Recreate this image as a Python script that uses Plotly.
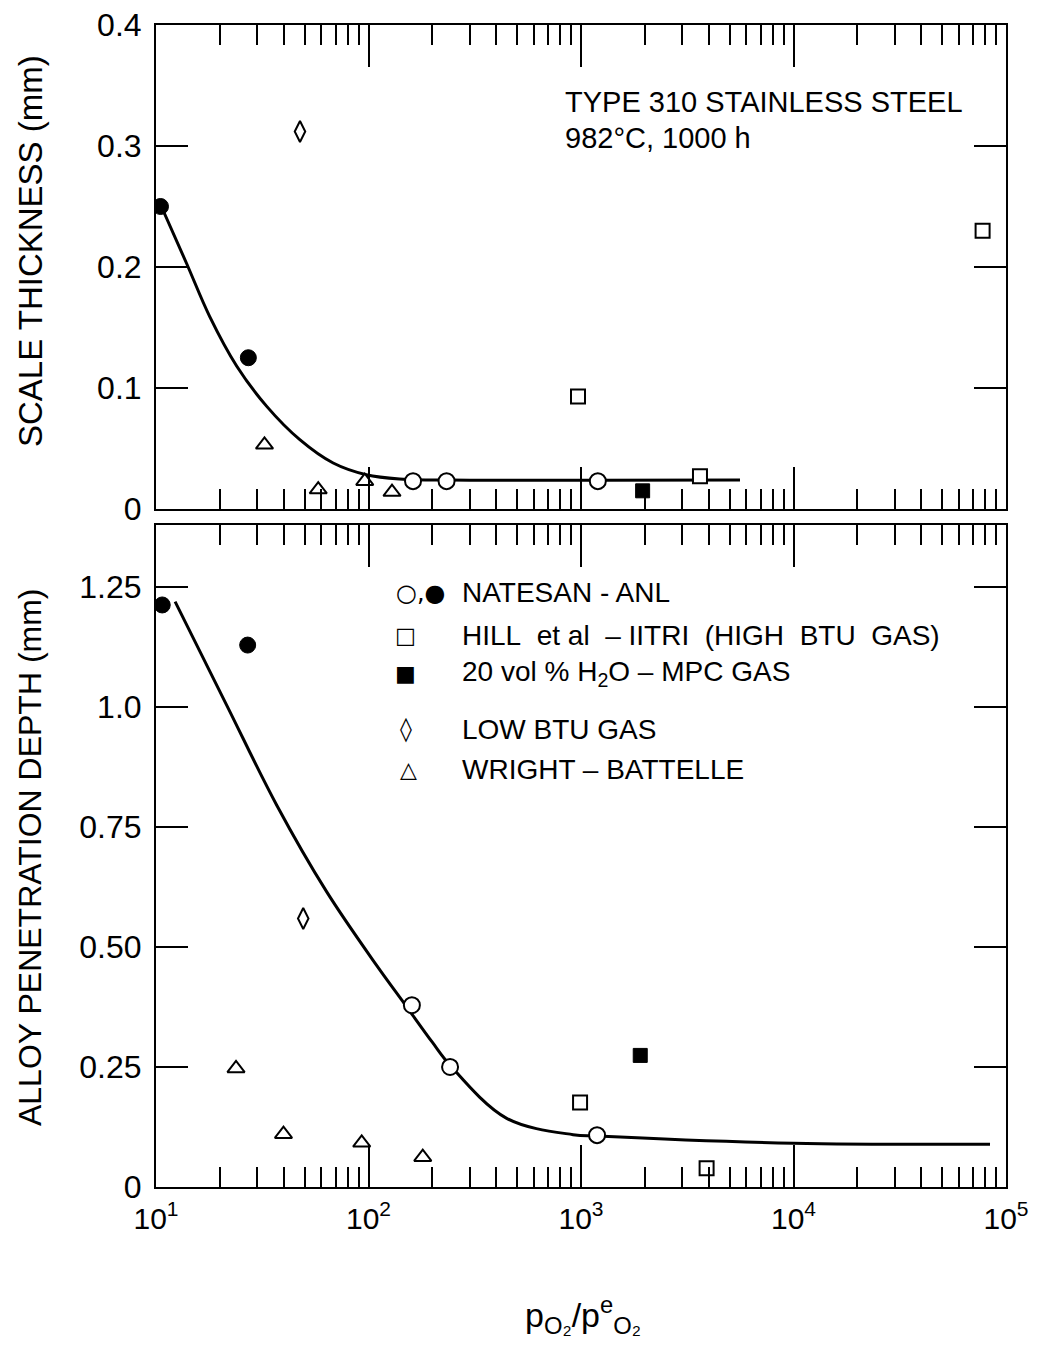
import plotly.graph_objects as go

# ---------------- data ----------------
# Top panel: scale thickness (mm)
top_natesan_open_x = [162, 233, 1200]
top_natesan_open_y = [0.023, 0.023, 0.023]
top_natesan_filled_x = [10.5, 27.2]
top_natesan_filled_y = [0.250, 0.125]
top_hill_x = [968, 3630, 77600]
top_hill_y = [0.093, 0.027, 0.230]
top_mpc_x = [1950]
top_mpc_y = [0.015]
top_lowbtu_x = [47.6]
top_lowbtu_y = [0.312]
top_wright_x = [32.4, 58, 96, 129]
top_wright_y = [0.053, 0.016, 0.023, 0.014]
top_curve_x = [10.6, 13.9, 17.9, 24, 33.2, 47.5, 68.2, 97.7, 140, 300, 1200, 5600]
top_curve_y = [0.250, 0.2033, 0.159, 0.118, 0.0848, 0.0573, 0.038, 0.0283, 0.0248, 0.0238, 0.0238, 0.0240]

# Bottom panel: alloy penetration depth (mm)
bot_natesan_open_x = [160, 242, 1190]
bot_natesan_open_y = [0.3785, 0.250, 0.108]
bot_natesan_filled_x = [10.7, 27]
bot_natesan_filled_y = [1.212, 1.1285]
bot_hill_x = [990, 3900]
bot_hill_y = [0.176, 0.039]
bot_mpc_x = [1900]
bot_mpc_y = [0.274]
bot_lowbtu_x = [49.3]
bot_lowbtu_y = [0.559]
bot_wright_x = [23.8, 39.8, 92.9, 180]
bot_wright_y = [0.247, 0.110, 0.092, 0.062]
bot_curve_x = [12.3, 21.5, 37, 63.5, 109, 148, 200, 242, 447, 918, 1190, 10000, 84100]
bot_curve_y = [1.219, 1.0035, 0.795, 0.615, 0.462, 0.381, 0.301, 0.2535, 0.143, 0.109, 0.106, 0.091, 0.089]

x_tick_vals = [10, 100, 1000, 10000, 100000]
x_tick_text = ["10<sup>1</sup>", "10<sup>2</sup>", "10<sup>3</sup>", "10<sup>4</sup>", "10<sup>5</sup>"]
top_y_vals = [0, 0.1, 0.2, 0.3, 0.4]
top_y_text = ["0", "0.1", "0.2", "0.3", "0.4"]
bot_y_vals = [0, 0.25, 0.5, 0.75, 1.0, 1.25]
bot_y_text = ["0", "0.25", "0.50", "0.75", "1.0", "1.25"]

NB = "\u00a0"
legend_symbols = ["○,●", "□", "■", "◊", "△"]
legend_sym_sizes = [24, 22, 22, 24, 22]
legend_labels = ["NATESAN - ANL",
                 f"HILL{NB}{NB}et{NB}al{NB}{NB}–{NB}IITRI{NB}{NB}(HIGH{NB}{NB}BTU{NB}{NB}GAS)",
                 "20 vol % H<sub>2</sub>O – MPC GAS", "LOW BTU GAS", "WRIGHT – BATTELLE"]

FONT = "Liberation Sans, Arial, sans-serif"
SYMFONT = "DejaVu Sans, sans-serif"
BLACK = "black"

fig = go.Figure()

def add_panel(xa, ya, curve_x, curve_y, no_x, no_y, nf_x, nf_y, h_x, h_y,
              m_x, m_y, l_x, l_y, w_x, w_y):
    common = dict(xaxis=xa, yaxis=ya, showlegend=False, hoverinfo="skip")
    fig.add_trace(go.Scatter(x=curve_x, y=curve_y, mode="lines",
                             line=dict(color=BLACK, width=3, shape="spline", smoothing=1.0),
                             **common))
    fig.add_trace(go.Scatter(x=no_x, y=no_y, mode="markers",
                             marker=dict(symbol="circle", size=16, color="white",
                                         line=dict(color=BLACK, width=2)), **common))
    fig.add_trace(go.Scatter(x=nf_x, y=nf_y, mode="markers",
                             marker=dict(symbol="circle", size=16, color=BLACK,
                                         line=dict(color=BLACK, width=1)), **common))
    fig.add_trace(go.Scatter(x=h_x, y=h_y, mode="markers",
                             marker=dict(symbol="square", size=14, color="white",
                                         line=dict(color=BLACK, width=2)), **common))
    fig.add_trace(go.Scatter(x=m_x, y=m_y, mode="markers",
                             marker=dict(symbol="square", size=14, color=BLACK,
                                         line=dict(color=BLACK, width=1)), **common))
    fig.add_trace(go.Scatter(x=l_x, y=l_y, mode="markers",
                             marker=dict(symbol="diamond-tall", size=15, color="white",
                                         line=dict(color=BLACK, width=2)), **common))
    fig.add_trace(go.Scatter(x=w_x, y=w_y, mode="markers",
                             marker=dict(symbol="triangle-up", size=15, color="white",
                                         line=dict(color=BLACK, width=2)), **common))

add_panel("x", "y", top_curve_x, top_curve_y, top_natesan_open_x, top_natesan_open_y,
          top_natesan_filled_x, top_natesan_filled_y, top_hill_x, top_hill_y,
          top_mpc_x, top_mpc_y, top_lowbtu_x, top_lowbtu_y, top_wright_x, top_wright_y)
add_panel("x2", "y2", bot_curve_x, bot_curve_y, bot_natesan_open_x, bot_natesan_open_y,
          bot_natesan_filled_x, bot_natesan_filled_y, bot_hill_x, bot_hill_y,
          bot_mpc_x, bot_mpc_y, bot_lowbtu_x, bot_lowbtu_y, bot_wright_x, bot_wright_y)

minor_vals = [m * 10 ** k for k in range(1, 5) for m in range(2, 10)]

xaxis_common = dict(type="log", range=[1, 5], showgrid=False, zeroline=False,
                    showline=True, linecolor=BLACK, linewidth=2, mirror="ticks",
                    ticks="inside", ticklen=42, tickwidth=2, tickcolor=BLACK,
                    tickmode="array", tickvals=x_tick_vals, ticktext=x_tick_text,
                    minor=dict(tickmode="array", tickvals=minor_vals, ticks="inside",
                               ticklen=20, tickwidth=2, tickcolor=BLACK, showgrid=False),
                    tickfont=dict(family=FONT, size=30, color=BLACK),
                    ticklabeloverflow="allow", automargin=False)
yaxis_common = dict(showgrid=False, zeroline=False, showline=True, linecolor=BLACK,
                    linewidth=2, mirror="ticks", ticks="inside", ticklen=32,
                    tickwidth=2, tickcolor=BLACK, tickmode="array",
                    tickfont=dict(family=FONT, size=32, color=BLACK),
                    ticklabelstandoff=6, ticklabeloverflow="allow", automargin=False)

# the page adds an 8 px body margin, so the figure is 8 px smaller on each side
fig.update_layout(
    width=1029, height=1345,
    margin=dict(l=148, r=31, t=17, b=166, autoexpand=False),
    paper_bgcolor="white", plot_bgcolor="white",
    xaxis=dict(**xaxis_common, domain=[0, 1], anchor="y", showticklabels=False),
    yaxis=dict(**yaxis_common, domain=[0.5835, 1], range=[0, 0.4], anchor="x",
               tickvals=top_y_vals, ticktext=top_y_text),
    xaxis2=dict(**xaxis_common, domain=[0, 1], anchor="y2", matches="x",
                showticklabels=True, ticklabelstandoff=4),
    yaxis2=dict(**yaxis_common, domain=[0, 0.5697], range=[0, 1.3785], anchor="x2",
                tickvals=bot_y_vals, ticktext=bot_y_text),
)

def ann(text, x, y, size, xanchor="center", angle=0, family=FONT):
    return dict(text=text, xref="paper", yref="paper", x=x, y=y, xanchor=xanchor,
                yanchor="middle", textangle=angle, showarrow=False,
                font=dict(family=family, size=size, color=BLACK))

annotations = [
    ann("SCALE THICKNESS (mm)", -0.1482, 0.8055, 33, angle=-90),
    ann("ALLOY PENETRATION DEPTH (mm)", -0.1482, 0.284, 32, angle=-90),
    ann("p<sub>O₂</sub>/p<sup>e</sup><sub>O₂</sub>", 0.502, -0.110, 34),
    ann("TYPE 310 STAINLESS STEEL", 0.4788, 0.9339, 29, xanchor="left"),
    ann("982°C, 1000 h", 0.4788, 0.9027, 29, xanchor="left"),
]
leg_y = [0.5112, 0.4742, 0.4423, 0.3941, 0.3597]
sym_x = [0.3118, 0.293, 0.293, 0.294, 0.2965]
for s, ss, lab, yy, sx in zip(legend_symbols, legend_sym_sizes, legend_labels, leg_y, sym_x):
    annotations.append(ann(s, sx, yy, ss, family=SYMFONT))
    annotations.append(ann(lab, 0.3576, yy, 28, xanchor="left"))
fig.update_layout(annotations=annotations)

fig.write_html("out.html")
